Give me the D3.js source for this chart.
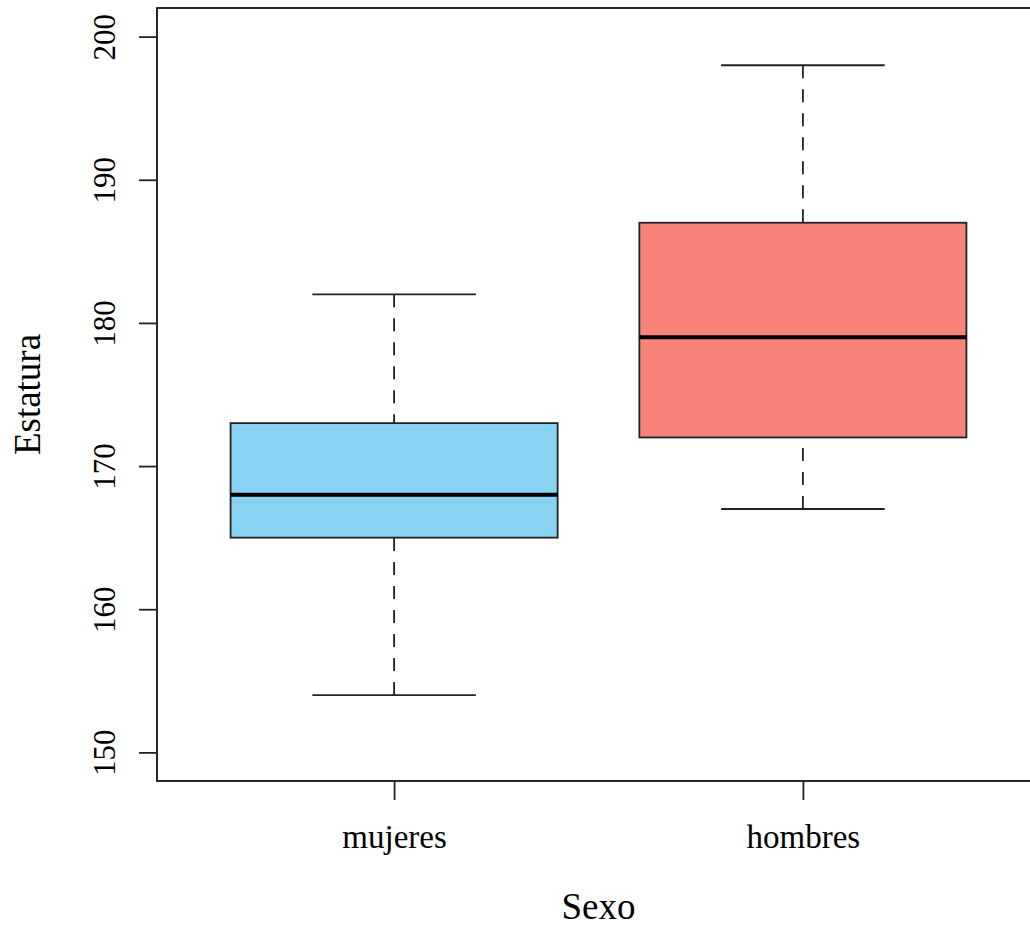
<!DOCTYPE html>
<html>
<head>
<meta charset="utf-8">
<script src="https://cdn.jsdelivr.net/npm/d3@7"></script>
<style>
  html, body { margin: 0; padding: 0; background: #fff; overflow: hidden; }
  svg { display: block; }
  text { font-family: "Liberation Serif", "DejaVu Serif", serif; fill: #000; }
</style>
</head>
<body>
<svg id="chart" width="1030" height="933"></svg>
<script>
// ---- data ----
const categories = ["mujeres", "hombres"];
const whiskerLow = [154, 167];
const q1Values = [165, 172];
const medianValues = [168, 179];
const q3Values = [173, 187];
const whiskerHigh = [182, 198];
const fillColors = ["#89D3F2", "#F8837A"];
const yTicks = [150, 160, 170, 180, 190, 200];
const xTitle = "Sexo";
const yTitle = "Estatura";

// ---- layout ----
const svg = d3.select("#chart");
const plotLeft = 157, plotRight = 1040, plotTop = 8, plotBottom = 781;

const x = d3.scaleLinear().domain([0.42, 2.58]).range([plotLeft, plotRight]);
const y = d3.scaleLinear().domain([148, 202]).range([plotBottom, plotTop]);

const boxHalf = 0.4, capHalf = 0.2;

const data = categories.map((c, i) => ({
  cat: c, pos: i + 1,
  lo: whiskerLow[i], q1: q1Values[i], med: medianValues[i], q3: q3Values[i], hi: whiskerHigh[i],
  fill: fillColors[i]
}));

const g = svg.append("g");

const boxes = g.selectAll("g.box").data(data).join("g").attr("class", "box");

// whiskers (dashed)
boxes.append("line")
  .attr("x1", d => x(d.pos)).attr("x2", d => x(d.pos))
  .attr("y1", d => y(d.hi)).attr("y2", d => y(d.q3))
  .attr("stroke", "#222").attr("stroke-width", 1.8).attr("stroke-dasharray", "13,11");
boxes.append("line")
  .attr("x1", d => x(d.pos)).attr("x2", d => x(d.pos))
  .attr("y1", d => y(d.lo)).attr("y2", d => y(d.q1))
  .attr("stroke", "#222").attr("stroke-width", 1.8).attr("stroke-dasharray", "13,11");
// caps
boxes.append("line")
  .attr("x1", d => x(d.pos - capHalf)).attr("x2", d => x(d.pos + capHalf))
  .attr("y1", d => y(d.hi)).attr("y2", d => y(d.hi))
  .attr("stroke", "#222").attr("stroke-width", 1.8);
boxes.append("line")
  .attr("x1", d => x(d.pos - capHalf)).attr("x2", d => x(d.pos + capHalf))
  .attr("y1", d => y(d.lo)).attr("y2", d => y(d.lo))
  .attr("stroke", "#222").attr("stroke-width", 1.8);
// box
boxes.append("rect")
  .attr("x", d => x(d.pos - boxHalf))
  .attr("width", d => x(d.pos + boxHalf) - x(d.pos - boxHalf))
  .attr("y", d => y(d.q3))
  .attr("height", d => y(d.q1) - y(d.q3))
  .attr("fill", d => d.fill)
  .attr("stroke", "#222").attr("stroke-width", 1.8);
// median
boxes.append("line")
  .attr("x1", d => x(d.pos - boxHalf)).attr("x2", d => x(d.pos + boxHalf))
  .attr("y1", d => y(d.med)).attr("y2", d => y(d.med))
  .attr("stroke", "#000").attr("stroke-width", 4);

// plot frame
g.append("rect")
  .attr("x", plotLeft).attr("y", plotTop)
  .attr("width", plotRight - plotLeft).attr("height", plotBottom - plotTop)
  .attr("fill", "none").attr("stroke", "#111").attr("stroke-width", 1.8);

// y axis
const yAxis = svg.append("g")
  .attr("transform", `translate(${plotLeft},0)`)
  .call(d3.axisLeft(y).tickValues(yTicks).tickSize(18).tickFormat(d3.format("d")));
yAxis.select(".domain").remove();
yAxis.selectAll(".tick line").attr("stroke", "#222").attr("stroke-width", 1.8);
yAxis.selectAll(".tick text")
  .attr("transform", "rotate(-90)")
  .attr("x", 0).attr("y", -42).attr("dy", 0)
  .attr("text-anchor", "middle")
  .style("font-family", "'Liberation Serif', serif")
  .style("font-size", "31px").attr("fill", "#000");

// x axis
const xAxis = svg.append("g")
  .attr("transform", `translate(0,${plotBottom})`)
  .call(d3.axisBottom(x).tickValues(data.map(d => d.pos)).tickSize(19)
        .tickFormat((d, i) => categories[i]));
xAxis.select(".domain").remove();
xAxis.selectAll(".tick line").attr("stroke", "#222").attr("stroke-width", 1.8);
xAxis.selectAll(".tick text")
  .attr("y", 67).attr("dy", 0)
  .style("font-family", "'Liberation Serif', serif")
  .style("font-size", "33px").attr("fill", "#000");

// titles
svg.append("text")
  .attr("x", (plotLeft + plotRight) / 2).attr("y", 919)
  .attr("text-anchor", "middle")
  .style("font-size", "37px")
  .text(xTitle);
svg.append("text")
  .attr("transform", `translate(40,${(plotTop + plotBottom) / 2}) rotate(-90)`)
  .attr("text-anchor", "middle")
  .style("font-size", "37px")
  .text(yTitle);
</script>
</body>
</html>
